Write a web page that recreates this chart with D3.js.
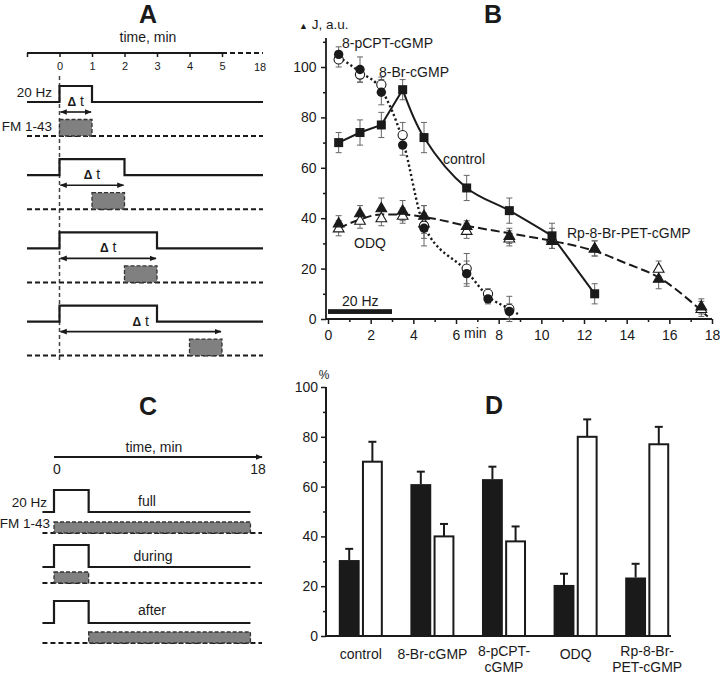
<!DOCTYPE html>
<html><head><meta charset="utf-8">
<script src="https://cdn.jsdelivr.net/npm/d3@7"></script>
<style>
body{margin:0;background:#fff}
svg{display:block}
text{font-family:"Liberation Sans",Arial,Helvetica,sans-serif;fill:#1a1a1a}
</style>
</head><body>
<svg id="c" width="720" height="673"></svg>
<script>
// ---------- Panel A (protocol) ----------
const aTicks = [0, 1, 2, 3, 4, 5];
const aStimDur = [1, 2, 3, 3];
const aFmStart = [0, 1, 2, 4];
const aFmEnd = [1, 2, 3, 5];
const aDelta = [1, 2, 3, 5];

// ---------- Panel B (time course) ----------
const bTimeSq = [0.5, 1.5, 2.5, 3.5, 4.5, 6.5, 8.5, 10.5, 12.5];
const controlVal = [70, 74, 77, 91, 72, 52, 43, 33, 10];
const controlErr = [4, 5, 5, 4, 6, 5, 5, 5, 4];
const bTimeCi = [0.5, 1.5, 2.5, 3.5, 4.5, 6.5, 7.5, 8.5];
const pcptVal = [105, 99, 90, 69, 36, 18, 8, 3];
const pcptErr = [3, 5, 5, 4, 4, 5, 2, 3];
const brVal = [103, 97, 93, 73, 37, 20, 10, 4];
const brErr = [3, 3, 3, 5, 8, 6, 2, 5];
const bTimeTr = [0.5, 1.5, 2.5, 3.5, 4.5, 6.5, 8.5, 10.5, 12.5, 15.5, 17.5];
const rpVal = [38, 42, 44, 43, 41, 37, 33, 31, 28, 16, 5];
const rpErr = [3, 3, 4, 4, 4, 2, 3, 3, 3, 4, 3];
const odqVal = [36, 39, 40, 41, 38, 35, 32, 32, 28, 20, 4];
const odqErr = [3, 3, 3, 3, 4, 3, 3, 4, 3, 3, 3];
const fitDashX = [0.5, 1.5, 2.5, 3.5, 4.5, 6.5, 8.5, 10.5, 12.5, 14, 15.5, 17, 17.8];
const fitDashY = [36, 39.5, 41.5, 41.5, 40.5, 37, 34, 31, 27, 22, 16.5, 7, 1];
const fitDotX = [0.5, 1.5, 2.5, 3.5, 4.5, 6.5, 7.5, 8.5, 8.9];
const fitDotY = [104, 98, 91, 71, 37, 19, 9, 4, 2];
const bXTicks = [0, 2, 4, 6, 8, 10, 12, 14, 16, 18];
const bYTicks = [0, 20, 40, 60, 80, 100];

// ---------- Panel C (protocol) ----------
const cRows = ["full", "during", "after"];
const cFmStart = [0, 0, 3];
const cFmEnd = [17, 3, 17];
const cStim = [0, 3];

// ---------- Panel D (bars) ----------
const dCats = ["control", "8-Br-cGMP", "8-pCPT-cGMP", "ODQ", "Rp-8-Br-PET-cGMP"];
const dLabels = [["control"], ["8-Br-cGMP"], ["8-pCPT-", "cGMP"], ["ODQ"], ["Rp-8-Br-", "PET-cGMP"]];
const dBlack = [30.5, 61, 63, 20.5, 23.5];
const dBlackErr = [4.5, 5, 5, 4.5, 5.5];
const dWhite = [70, 40, 38, 80, 77];
const dWhiteErr = [8, 5, 6, 7, 7];
const dYTicks = [0, 20, 40, 60, 80, 100];

const svg = d3.select("#c");
const ink = "#1a1a1a";
const defs = svg.append("defs");
defs.append("marker").attr("id", "ah").attr("viewBox", "0 0 10 10")
  .attr("refX", 9).attr("refY", 5).attr("markerWidth", 7).attr("markerHeight", 7)
  .attr("markerUnits", "userSpaceOnUse").attr("orient", "auto-start-reverse")
  .append("path").attr("d", "M0,1 L10,5 L0,9 Z").attr("fill", ink);

function panelLetter(t, x, y) {
  svg.append("text").attr("x", x).attr("y", y).attr("text-anchor", "middle")
    .attr("font-size", 25).attr("font-weight", "bold").text(t);
}

// ================= Panel A =================
{
  const g = svg.append("g");
  const xA = d3.scaleLinear().domain([-1, 0, 5, 18]).range([27, 59.5, 222, 263]);
  panelLetter("A", 148, 23);
  g.append("text").attr("x", 148).attr("y", 42).attr("text-anchor", "middle").attr("font-size", 14).text("time, min");
  const axY = 53;
  g.append("line").attr("x1", xA(-1)).attr("x2", xA(5)).attr("y1", axY).attr("y2", axY).attr("stroke", ink).attr("stroke-width", 2);
  g.append("line").attr("x1", xA(5)).attr("x2", xA(18)).attr("y1", axY).attr("y2", axY).attr("stroke", ink).attr("stroke-width", 2).attr("stroke-dasharray", "5,3");
  const ax = g.append("g").attr("transform", `translate(0,${axY})`)
    .call(d3.axisBottom(xA).tickValues([-1].concat(aTicks)).tickSize(4).tickSizeOuter(0).tickFormat(d => d < 0 ? "" : d));
  ax.select(".domain").remove();
  ax.selectAll("line").attr("stroke", ink).attr("stroke-width", 1.5);
  ax.selectAll("text").attr("font-size", 11).attr("dy", "0.9em").attr("fill", ink).attr("font-family", '"Liberation Sans",Arial,sans-serif');
  g.append("text").attr("x", xA(18) - 3).attr("y", 71).attr("text-anchor", "middle").attr("font-size", 11).text("18");

  // vertical dashed reference line
  g.append("line").attr("x1", xA(0)).attr("x2", xA(0)).attr("y1", 76).attr("y2", 360)
    .attr("stroke", "#444").attr("stroke-width", 1.5).attr("stroke-dasharray", "4,3");

  const line = d3.line().x(d => xA(d[0])).y(d => d[1]);
  aStimDur.forEach((dur, i) => {
    const high = 86 + i * 73.2, base = high + 16;
    g.append("path").attr("d", line([[-1, base], [0, base], [0, high], [dur, high], [dur, base], [18, base]]))
      .attr("fill", "none").attr("stroke", ink).attr("stroke-width", 2.2);
    const ay = high + 26;
    g.append("line").attr("x1", xA(0) + 1).attr("x2", xA(aDelta[i]) - 1).attr("y1", ay).attr("y2", ay)
      .attr("stroke", ink).attr("stroke-width", 1.6).attr("marker-start", "url(#ah)").attr("marker-end", "url(#ah)");
    const lt = g.append("text").attr("x", (xA(0) + xA(aDelta[i])) / 2).attr("y", ay - 6).attr("text-anchor", "middle").attr("font-size", 14);
    lt.append("tspan").attr("font-weight", "bold").attr("font-size", 12).text("Δ");
    lt.append("tspan").text(" t");
    const fb = high + 50, ft = fb - 16.5;
    g.append("line").attr("x1", xA(-1)).attr("x2", xA(18)).attr("y1", fb).attr("y2", fb)
      .attr("stroke", ink).attr("stroke-width", 2).attr("stroke-dasharray", "5,3");
    g.append("rect").attr("x", xA(aFmStart[i])).attr("y", ft).attr("width", xA(aFmEnd[i]) - xA(aFmStart[i])).attr("height", fb - ft)
      .attr("fill", "#808080").attr("stroke", "#333").attr("stroke-width", 1.3).attr("stroke-dasharray", "4,2");
    if (i === 0) {
      g.append("text").attr("x", 52).attr("y", high + 11).attr("text-anchor", "end").attr("font-size", 13.5).text("20 Hz");
      g.append("text").attr("x", 52).attr("y", ft + 11).attr("text-anchor", "end").attr("font-size", 13.5).text("FM 1-43");
    }
  });
}

// ================= Panel B =================
{
  const g = svg.append("g");
  const x = d3.scaleLinear().domain([0, 18]).range([328, 712]);
  const y = d3.scaleLinear().domain([0, 100]).range([319, 67]);
  panelLetter("B", 493, 23);
  const jl = g.append("text").attr("x", 299).attr("y", 29).attr("font-size", 13.5);
  jl.append("tspan").attr("font-size", 9).text("▲");
  jl.append("tspan").text(" J, a.u.");

  // axes
  g.append("line").attr("x1", 326).attr("x2", 326).attr("y1", y(0)).attr("y2", y(111.5)).attr("stroke", ink).attr("stroke-width", 1.8);
  g.append("line").attr("x1", 326).attr("x2", x(18)).attr("y1", y(0)).attr("y2", y(0)).attr("stroke", ink).attr("stroke-width", 1.8);
  const yAx = g.append("g").attr("transform", "translate(326,0)")
    .call(d3.axisLeft(y).tickValues(bYTicks).tickSize(5).tickSizeOuter(0));
  const yAxm = g.append("g").attr("transform", "translate(326,0)")
    .call(d3.axisLeft(y).tickValues([10, 30, 50, 70, 90, 110]).tickSize(3).tickFormat(""));
  const xAx = g.append("g").attr("transform", `translate(0,${y(0)})`)
    .call(d3.axisBottom(x).tickValues(bXTicks).tickSize(5).tickSizeOuter(0));
  const xAxm = g.append("g").attr("transform", `translate(0,${y(0)})`)
    .call(d3.axisBottom(x).tickValues([1, 3, 5, 7, 9, 11, 13, 15, 17]).tickSize(3).tickFormat(""));
  [yAx, yAxm, xAx, xAxm].forEach(a => {
    a.select(".domain").remove();
    a.selectAll("line").attr("stroke", ink).attr("stroke-width", 1.5);
    a.selectAll("text").attr("font-size", 14).attr("fill", ink).attr("font-family", '"Liberation Sans",Arial,sans-serif');
  });
  xAx.selectAll("text").attr("dy", "0.95em");
  yAx.selectAll("text").attr("dx", "-0.1em");
  g.append("text").attr("x", x(6) + 8).attr("y", y(0) + 19).attr("font-size", 14).text("min");

  // 20 Hz bar
  g.append("rect").attr("x", x(0)).attr("width", x(3) - x(0)).attr("y", y(3.9)).attr("height", y(2) - y(3.9)).attr("fill", ink);
  g.append("text").attr("x", 342).attr("y", 306).attr("font-size", 14).text("20 Hz");

  // lines
  const ln = d3.line().x(d => x(d[0])).y(d => y(d[1]));
  const ctl = bTimeSq.map((t, i) => [t, controlVal[i]]);
  g.append("path").attr("d", ln(ctl.slice(0, 4))).attr("fill", "none").attr("stroke", ink).attr("stroke-width", 2);
  g.append("path").attr("d", ln.curve(d3.curveCatmullRom.alpha(0.5))(ctl.slice(3, 8))).attr("fill", "none").attr("stroke", ink).attr("stroke-width", 2);
  ln.curve(d3.curveLinear);
  g.append("path").attr("d", ln(ctl.slice(7, 9))).attr("fill", "none").attr("stroke", ink).attr("stroke-width", 2);
  const lnC = d3.line().x(d => x(d[0])).y(d => y(d[1])).curve(d3.curveMonotoneX);
  g.append("path").attr("d", lnC(fitDashX.map((t, i) => [t, fitDashY[i]]))).attr("fill", "none")
    .attr("stroke", ink).attr("stroke-width", 2).attr("stroke-dasharray", "9,4");
  g.append("path").attr("d", lnC(fitDotX.map((t, i) => [t, fitDotY[i]]))).attr("fill", "none")
    .attr("stroke", ink).attr("stroke-width", 2.4).attr("stroke-dasharray", "2.2,2.6");

  // error bars
  function errs(ts, vals, es) {
    ts.forEach((t, i) => {
      const cx = x(t), y1 = y(vals[i] - es[i]), y2 = y(vals[i] + es[i]);
      g.append("line").attr("x1", cx).attr("x2", cx).attr("y1", y1).attr("y2", y2).attr("stroke", "#666").attr("stroke-width", 1);
      [y1, y2].forEach(yy => g.append("line").attr("x1", cx - 3).attr("x2", cx + 3).attr("y1", yy).attr("y2", yy).attr("stroke", "#666").attr("stroke-width", 1));
    });
  }
  errs(bTimeTr, odqVal, odqErr);
  errs(bTimeTr, rpVal, rpErr);
  errs(bTimeCi, brVal, brErr);
  errs(bTimeCi, pcptVal, pcptErr);
  errs(bTimeSq, controlVal, controlErr);

  const tri = d3.symbol().type(d3.symbolTriangle).size(50);
  function tris(vals, fill) {
    g.append("g").selectAll("path").data(bTimeTr).join("path")
      .attr("transform", (t, i) => `translate(${x(t)},${y(vals[i]) + 0.5})`)
      .attr("d", tri()).attr("fill", fill).attr("stroke", ink).attr("stroke-width", 1.1);
  }
  tris(odqVal, "#fff");
  tris(rpVal, ink);
  g.append("g").selectAll("circle").data(bTimeCi).join("circle")
    .attr("cx", t => x(t)).attr("cy", (t, i) => y(brVal[i])).attr("r", 4.6)
    .attr("fill", "#fff").attr("stroke", ink).attr("stroke-width", 1.1);
  g.append("g").selectAll("circle").data(bTimeCi).join("circle")
    .attr("cx", t => x(t)).attr("cy", (t, i) => y(pcptVal[i])).attr("r", 4.7)
    .attr("fill", ink);
  g.append("g").selectAll("rect").data(bTimeSq).join("rect")
    .attr("x", t => x(t) - 4.5).attr("y", (t, i) => y(controlVal[i]) - 4.5).attr("width", 9).attr("height", 9)
    .attr("fill", ink);

  const lab = (t, xx, yy) => g.append("text").attr("x", xx).attr("y", yy).attr("font-size", 14).text(t);
  lab("8-pCPT-cGMP", 342, 48);
  lab("8-Br-cGMP", 379, 77);
  lab("control", 443, 164);
  lab("ODQ", 354, 248);
  lab("Rp-8-Br-PET-cGMP", 567, 238);
}

// ================= Panel C =================
{
  const g = svg.append("g");
  const xC = d3.scaleLinear().domain([0, 18]).range([54, 262]);
  panelLetter("C", 148, 415);
  g.append("text").attr("x", 154).attr("y", 452).attr("text-anchor", "middle").attr("font-size", 14).text("time, min");
  g.append("line").attr("x1", xC(0)).attr("x2", xC(18)).attr("y1", 457).attr("y2", 457)
    .attr("stroke", ink).attr("stroke-width", 1.8).attr("marker-end", "url(#ah)");
  g.append("text").attr("x", xC(0) + 3).attr("y", 474).attr("text-anchor", "middle").attr("font-size", 14).text("0");
  g.append("text").attr("x", xC(18) - 4).attr("y", 474).attr("text-anchor", "middle").attr("font-size", 14).text("18");
  const line = d3.line().x(d => xC(d[0])).y(d => d[1]);
  const highs = [490, 545, 601];
  cRows.forEach((name, i) => {
    const high = highs[i], base = high + 22;
    g.append("path").attr("d", line([[-1, base], [cStim[0], base], [cStim[0], high], [cStim[1], high], [cStim[1], base], [17, base]]))
      .attr("fill", "none").attr("stroke", ink).attr("stroke-width", 2.2);
    g.append("text").attr("x", [147, 153, 152][i]).attr("y", high + [15.5, 15.5, 14][i]).attr("text-anchor", "middle").attr("font-size", 14).text(name);
    const fb = base + [21, 16, 20][i], ft = fb - 11;
    g.append("line").attr("x1", xC(-1)).attr("x2", xC(18)).attr("y1", fb).attr("y2", fb)
      .attr("stroke", ink).attr("stroke-width", 2).attr("stroke-dasharray", "5,3");
    g.append("rect").attr("x", xC(cFmStart[i])).attr("y", ft).attr("width", xC(cFmEnd[i]) - xC(cFmStart[i])).attr("height", fb - ft)
      .attr("fill", "#808080").attr("stroke", "#333").attr("stroke-width", 1.3).attr("stroke-dasharray", "4,2");
    if (i === 0) {
      g.append("text").attr("x", 47).attr("y", 507).attr("text-anchor", "end").attr("font-size", 13.5).text("20 Hz");
      g.append("text").attr("x", 50).attr("y", 528).attr("text-anchor", "end").attr("font-size", 13.5).text("FM 1-43");
    }
  });
}

// ================= Panel D =================
{
  const g = svg.append("g");
  const y = d3.scaleLinear().domain([0, 100]).range([636, 387]);
  const x = d3.scaleBand().domain(dCats).range([325, 683]).paddingInner(0.385).paddingOuter(0.1925);
  const xs = d3.scaleBand().domain(["b", "w"]).range([0, x.bandwidth()]).paddingInner(0.1);
  panelLetter("D", 494, 414);
  g.append("text").attr("x", 324).attr("y", 379).attr("text-anchor", "middle").attr("font-size", 12).attr("fill", ink).text("%");
  g.append("line").attr("x1", 326).attr("x2", 326).attr("y1", y(0)).attr("y2", y(100)).attr("stroke", ink).attr("stroke-width", 2);
  g.append("line").attr("x1", 326).attr("x2", 671).attr("y1", y(0)).attr("y2", y(0)).attr("stroke", ink).attr("stroke-width", 2);
  const ya = g.append("g").attr("transform", "translate(326,0)").call(d3.axisLeft(y).tickValues(dYTicks).tickSize(5).tickSizeOuter(0));
  const yam = g.append("g").attr("transform", "translate(326,0)").call(d3.axisLeft(y).tickValues([10, 30, 50, 70, 90]).tickSize(3).tickFormat(""));
  [ya, yam].forEach(a => {
    a.select(".domain").remove();
    a.selectAll("line").attr("stroke", ink).attr("stroke-width", 1.5);
    a.selectAll("text").attr("font-size", 14).attr("fill", ink).attr("font-family", '"Liberation Sans",Arial,sans-serif');
  });

  function errUp(cx, v, e) {
    g.append("line").attr("x1", cx).attr("x2", cx).attr("y1", y(v)).attr("y2", y(v + e)).attr("stroke", ink).attr("stroke-width", 2);
    g.append("line").attr("x1", cx - 4).attr("x2", cx + 4).attr("y1", y(v + e)).attr("y2", y(v + e)).attr("stroke", ink).attr("stroke-width", 2);
  }
  dCats.forEach((c, i) => {
    const bx = x(c) + xs("b"), wx = x(c) + xs("w"), bw = xs.bandwidth();
    errUp(bx + bw / 2, dBlack[i], dBlackErr[i]);
    errUp(wx + bw / 2, dWhite[i], dWhiteErr[i]);
    g.append("rect").attr("x", bx).attr("y", y(dBlack[i])).attr("width", bw).attr("height", y(0) - y(dBlack[i])).attr("fill", ink);
    g.append("rect").attr("x", wx + 1).attr("y", y(dWhite[i])).attr("width", bw - 2).attr("height", y(0) - y(dWhite[i]))
      .attr("fill", "#fff").attr("stroke", ink).attr("stroke-width", 2);
    const lines = dLabels[i];
    const cx = x(c) + x.bandwidth() / 2;
    lines.forEach((s, k) => {
      const yy = lines.length === 1 ? 659 : 656 + k * 15.5;
      g.append("text").attr("x", cx).attr("y", yy).attr("text-anchor", "middle").attr("font-size", 14).text(s);
    });
  });
}
</script>
</body></html>
